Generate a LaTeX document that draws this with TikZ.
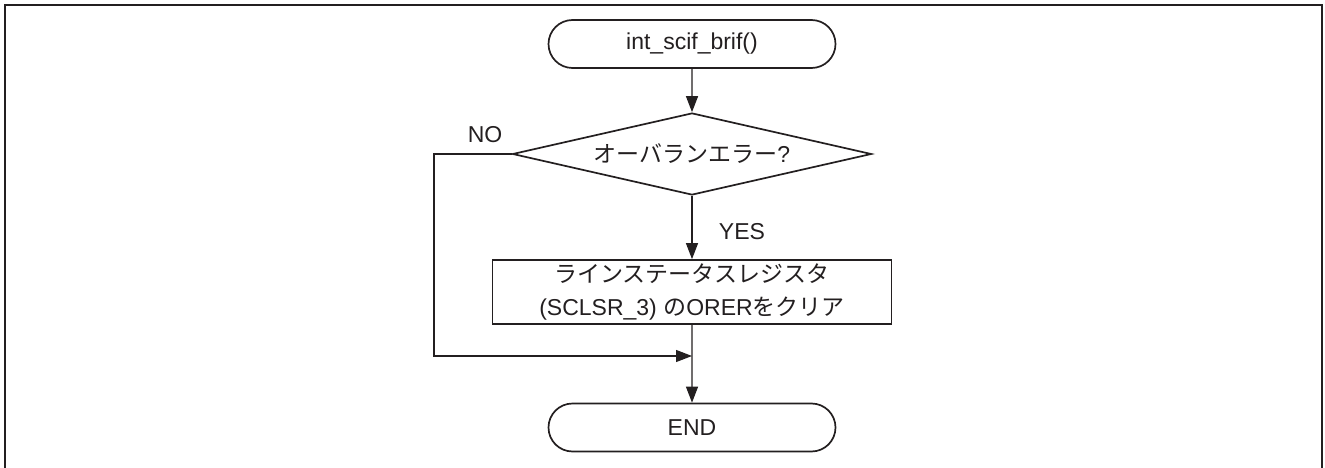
\documentclass[tikz,border=0pt]{standalone}
\usepackage{fontspec}
\setmainfont{Liberation Sans}
\newfontfamily\jp{Noto Sans CJK JP}
\usetikzlibrary{shapes.geometric,shapes.misc,arrows.meta}
\definecolor{ink}{HTML}{231F20}
\tikzset{
  shapeline/.style={draw=ink, line width=1.7pt, text=ink, inner sep=0pt,
    font=\fontsize{23}{33}\selectfont, align=center},
  term/.style={shapeline, rounded rectangle, minimum width=287pt, minimum height=48pt},
  decision/.style={shapeline, diamond, aspect=4.4, minimum width=359pt, minimum height=82pt},
  procbox/.style={shapeline, rectangle, minimum width=399pt, minimum height=64pt},
  conn/.style={draw=ink, line width=1.2pt},
  arr/.style={conn, -{Triangle[length=16pt,width=12pt]}},
  lbl/.style={text=ink, font=\fontsize{23}{28}\selectfont, inner sep=0pt}
}
\begin{document}
\begin{tikzpicture}[x=1pt,y=1pt]
\useasboundingbox (0,0) rectangle (1325,-468);
\draw[ink, line width=2.6pt] (5,-470) -- (5,-5) -- (1322,-5) -- (1322,-470);
\node[term] (start) at (692,-44) {int\_scif\_brif()};
\node[decision] (dec) at (692,-154) {{\jp オーバランエラー}?};
\node[procbox] (proc) at (692,-292) {{\jp ラインステータスレジスタ}\\(SCLSR\_3) {\jp の}ORER{\jp をクリア}};
\node[term] (end) at (692,-427.5) {END};
\node[lbl] (no) at (485,-135) {NO};
\node[lbl] (yes) at (742,-232) {YES};
\coordinate (nl) at (434,-154);
\coordinate (ml) at (434,-356);
\coordinate (m) at (692,-356);
\draw[arr] (start) -- (dec);
\draw[arr] (dec) -- (proc);
\draw[arr] (dec.west) -- (nl) -- (ml) -- (m);
\draw[arr] (proc) -- (end);
\end{tikzpicture}
\end{document}
